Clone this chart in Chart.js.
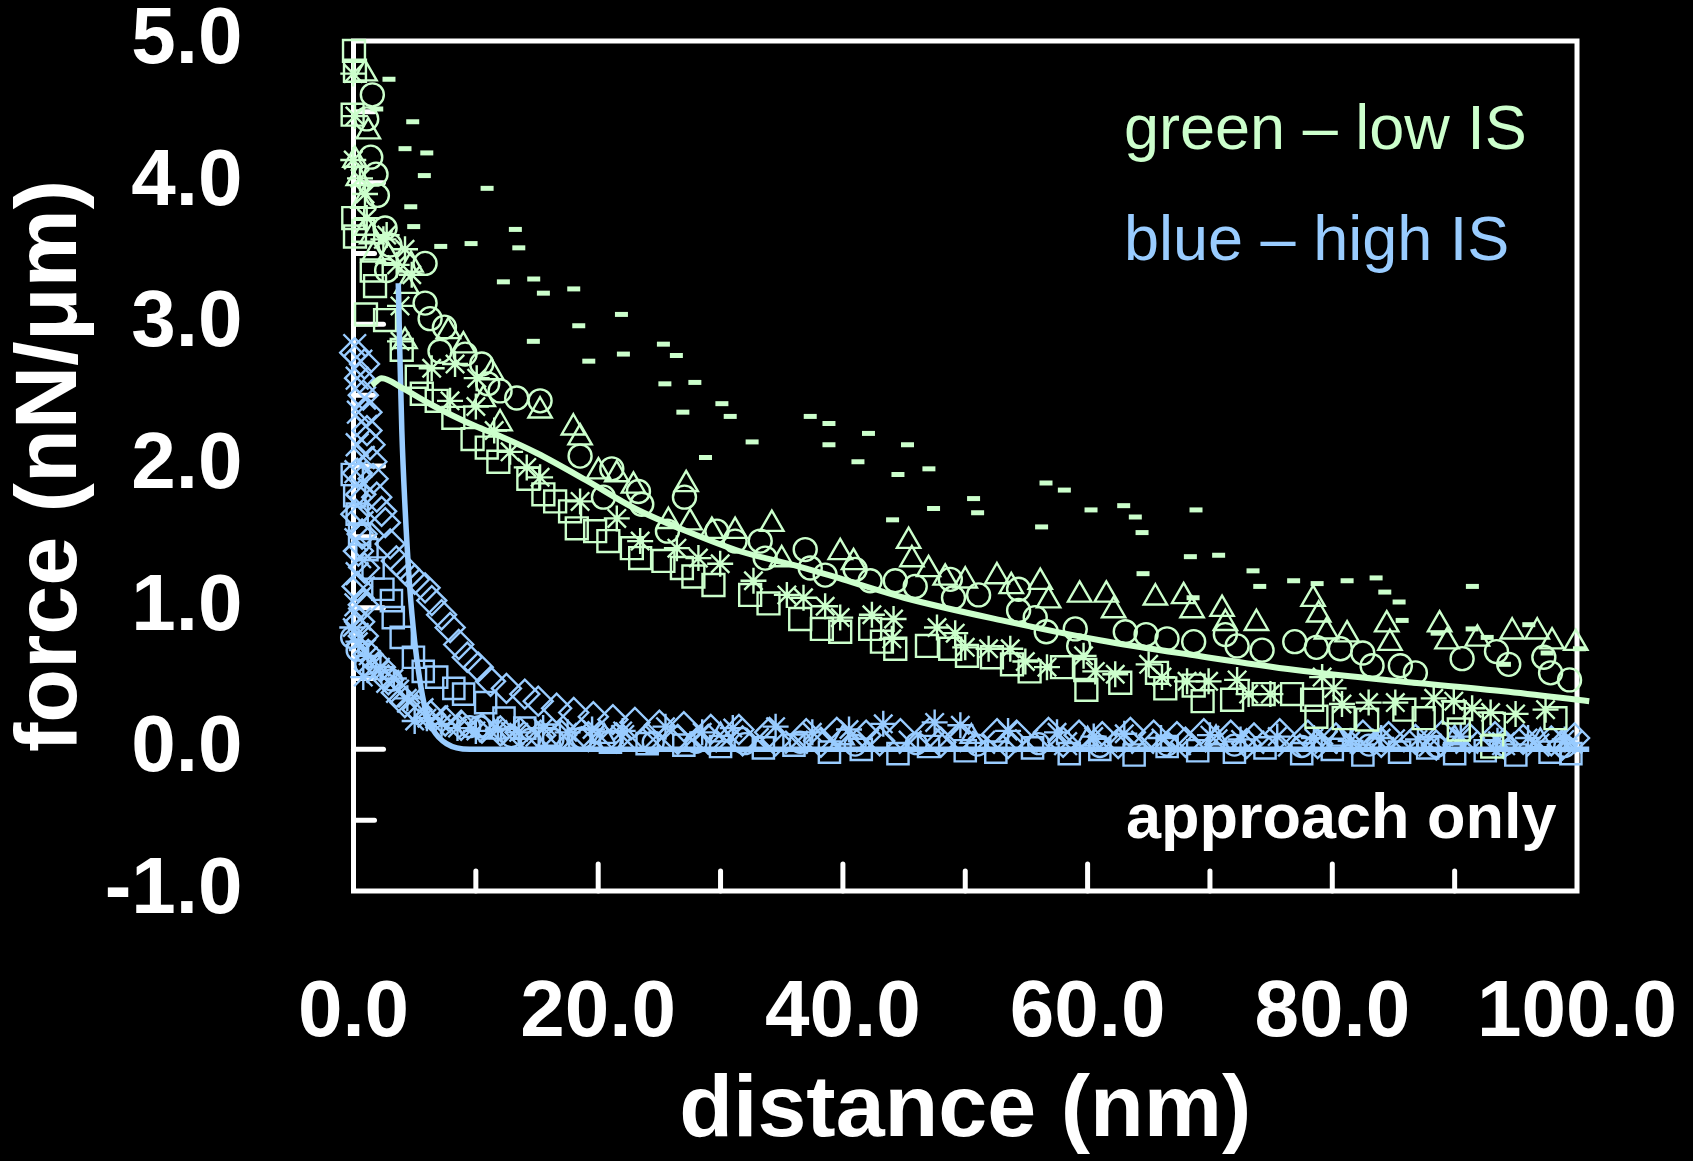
<!DOCTYPE html>
<html>
<head>
<meta charset="utf-8">
<script src="https://cdn.jsdelivr.net/npm/chart.js@4.4.0/dist/chart.umd.min.js"></script>
<style>
  html, body { margin: 0; padding: 0; background: #000; overflow: hidden; }
  #wrap { width: 1693px; height: 1161px; position: relative; }
</style>
</head>
<body>
<div id="wrap"><canvas id="forceChart"></canvas></div>
<script>
// axis ticks
var xTickStep = 20
var yTickStep = 1

// fitted curves [distance nm, force nN/um]
var greenFit = [[1.5,2.57],[2.3,2.62],[4,2.55],[6,2.45],[8,2.36],[10,2.28],[12,2.21],[15,2.09],[19,1.90],[23,1.70],[27.5,1.53],[31.5,1.40],[36,1.30],[40,1.20],[45,1.07],[53,0.91],[61,0.77],[69,0.66],[77,0.56],[85.5,0.48],[94,0.41],[101,0.34]]
var blueFit = [[3.66,3.29],[3.8,2.75],[3.95,2.25],[4.2,1.73],[4.6,1.14],[5.0,0.76],[5.4,0.50],[5.85,0.29],[6.5,0.14],[7.6,0.04],[9.5,0.0],[101,0.0]]

// low IS (green) measurements
var greenDashes = [[2.90,4.73],[1.90,4.52],[4.84,4.43],[4.21,4.24],[5.99,4.21],[5.79,4.05],[10.92,3.96],[4.68,3.83],[4.92,3.69],[13.23,3.67],[7.13,3.55],[9.61,3.57],[13.51,3.54],[12.25,3.30],[14.73,3.32],[15.52,3.22],[18.00,3.25],[18.41,2.99],[14.70,2.88],[19.23,2.74],[21.90,3.07],[22.06,2.79],[25.33,2.86],[26.39,2.78],[25.45,2.58],[27.90,2.59],[26.92,2.38],[30.11,2.44],[30.79,2.35],[32.58,2.17],[28.77,2.06],[37.33,2.35],[38.86,2.30],[38.86,2.15],[42.09,2.23],[41.23,2.03],[45.28,2.15],[44.50,1.94],[47.03,1.98],[47.41,1.70],[44.06,1.62],[50.68,1.77],[51.01,1.67],[56.60,1.88],[58.10,1.83],[56.24,1.57],[60.28,1.69],[62.95,1.72],[63.90,1.64],[64.45,1.53],[64.53,1.24],[68.86,1.69],[68.40,1.36],[70.71,1.37],[73.52,1.26],[74.07,1.15],[68.62,1.07],[76.84,1.19],[78.76,1.17],[81.21,1.19],[83.58,1.21],[84.29,1.11],[85.46,1.04],[85.71,0.91],[91.45,1.15],[88.57,0.82],[91.43,0.85],[92.66,0.79],[94.07,0.60],[96.06,0.88],[97.56,0.68],[100.2,0.71]]
var greenCircles = [[1.54,4.62],[1.08,4.45],[1.41,4.18],[1.84,4.06],[1.95,3.91],[2.58,3.68],[2.98,3.56],[5.85,3.43],[2.71,3.38],[5.85,3.15],[6.26,3.04],[7.43,2.98],[7.07,2.81],[9.12,2.79],[10.48,2.72],[10.97,2.58],[11.98,2.53],[13.34,2.48],[15.25,2.46],[18.52,2.07],[21.11,1.98],[20.43,1.78],[23.29,1.82],[23.56,1.73],[27.05,1.78],[25.66,1.54],[29.70,1.54],[31.19,1.47],[33.24,1.47],[33.65,1.35],[36.92,1.41],[37.33,1.28],[38.55,1.23],[41.0,1.27],[42.23,1.19],[44.28,1.19],[45.91,1.15],[48.78,1.20],[49.04,1.07],[51.09,1.09],[54.36,1.13],[54.36,0.98],[55.72,0.93],[56.62,0.83],[58.99,0.85],[59.27,0.73],[63.08,0.83],[64.78,0.81],[66.49,0.78],[68.67,0.76],[71.26,0.81],[72.22,0.73],[74.26,0.70],[76.93,0.76],[78.70,0.72],[80.66,0.71],[82.49,0.68],[83.25,0.59],[85.56,0.59],[86.79,0.54],[90.61,0.64],[93.42,0.69],[94.42,0.60],[97.29,0.65],[97.84,0.54],[99.39,0.49]]
var greenTriangles = [[0.94,4.77],[1.21,4.36],[0.12,4.16],[0.39,4.03],[0.80,3.87],[1.08,3.68],[1.49,3.62],[1.62,3.49],[2.85,3.48],[4.70,3.42],[4.35,3.27],[4.21,2.88],[7.75,2.95],[8.98,2.85],[11.30,2.66],[10.61,2.47],[15.25,2.39],[17.97,2.27],[11.98,2.30],[18.52,2.20],[20.02,1.96],[21.52,1.94],[22.88,1.86],[27.19,1.87],[25.74,1.61],[27.51,1.60],[29.29,1.54],[31.19,1.54],[34.19,1.59],[35.0,1.34],[39.78,1.39],[40.87,1.32],[45.37,1.47],[45.64,1.34],[47.0,1.27],[48.36,1.21],[50.0,1.19],[52.59,1.22],[53.76,1.15],[56.13,1.18],[56.81,1.05],[59.35,1.09],[61.53,1.09],[62.13,0.98],[65.54,1.07],[67.85,1.08],[68.54,0.98],[70.99,0.99],[71.26,0.89],[73.80,0.89],[78.43,1.06],[78.89,0.95],[79.52,0.83],[81.21,0.81],[84.45,0.88],[84.71,0.75],[88.77,0.88],[89.38,0.76],[91.86,0.78],[94.70,0.83],[96.75,0.83],[97.96,0.76],[99.90,0.75]]
var greenSquares = [[0.04,4.93],[0.12,4.79],[-0.07,4.48],[-0.02,3.75],[0.80,3.66],[0.12,3.62],[1.49,3.38],[1.76,3.27],[1.02,3.07],[2.58,3.03],[3.94,2.82],[5.17,2.63],[5.58,2.51],[6.80,2.46],[8.16,2.34],[9.73,2.19],[10.89,2.13],[11.84,2.03],[14.29,1.91],[15.52,1.80],[16.48,1.75],[17.70,1.68],[18.25,1.56],[19.75,1.54],[20.83,1.47],[22.75,1.42],[23.43,1.35],[25.33,1.33],[26.84,1.28],[27.78,1.22],[29.42,1.16],[32.42,1.09],[33.92,1.03],[36.51,0.92],[38.28,0.85],[39.78,0.83],[42.23,0.85],[43.19,0.76],[44.28,0.71],[46.87,0.73],[48.77,0.71],[50.14,0.66],[52.18,0.65],[53.82,0.60],[55.26,0.55],[57.91,0.58],[59.81,0.56],[59.90,0.42],[62.67,0.47],[65.67,0.54],[66.35,0.43],[68.67,0.45],[69.40,0.34],[71.81,0.35],[74.39,0.39],[76.71,0.39],[78.35,0.35],[78.70,0.23],[80.93,0.22],[82.85,0.21],[85.89,0.28],[87.47,0.22],[89.93,0.26],[90.34,0.14],[93.20,0.18],[93.07,0.02],[98.24,0.22]]
var greenStars = [[-0.02,4.77],[0.12,4.47],[-0.02,4.16],[0.53,4.03],[0.94,3.92],[1.08,3.75],[2.71,3.63],[2.44,3.60],[4.21,3.53],[3.53,3.42],[4.76,3.35],[3.80,3.13],[3.80,2.88],[6.39,2.69],[8.30,2.72],[10.07,2.62],[7.89,2.46],[10.0,2.42],[11.5,2.25],[12.8,2.10],[14.16,1.99],[15.25,1.92],[18.52,1.75],[21.52,1.63],[23.43,1.47],[26.43,1.42],[28.19,1.35],[29.97,1.31],[32.69,1.19],[35.42,1.09],[36.78,1.07],[38.55,1.01],[39.78,0.93],[42.37,0.95],[44.14,0.92],[44.0,0.78],[47.69,0.86],[49.18,0.82],[50.0,0.72],[51.91,0.71],[53.68,0.71],[54.91,0.62],[56.68,0.58],[59.67,0.66],[60.63,0.55],[62.26,0.53],[64.99,0.60],[66.08,0.51],[68.13,0.48],[69.89,0.48],[72.22,0.49],[73.16,0.39],[74.94,0.39],[79.17,0.51],[80.11,0.43],[80.79,0.32],[82.97,0.33],[85.15,0.33],[88.29,0.36],[89.93,0.34],[91.43,0.29],[92.94,0.26],[94.98,0.25],[97.43,0.28]]

// high IS (blue) measurements
var blueDiamonds = [[0.1,2.80],[0.9,2.72],[0.5,2.62],[0.8,2.50],[1.1,2.38],[1.1,2.25],[1.35,2.15],[1.5,2.03],[1.6,1.91],[1.9,1.78],[2.3,1.68],[2.6,1.60],[3.0,1.45],[3.5,1.33],[4.2,1.27],[5.0,1.20],[5.85,1.14],[6.4,1.05],[7.2,0.95],[7.9,0.86],[8.6,0.74],[9.3,0.65],[10.2,0.58],[11.2,0.48],[12.5,0.43],[14.0,0.39],[15.1,0.34],[16.6,0.29],[18.0,0.26],[19.6,0.23],[21.2,0.21],[23.0,0.19],[25.0,0.17],[27.0,0.16],[29.2,0.14],[31.5,0.14],[34.0,0.12],[37.0,0.11],[39.5,0.12],[41.9,0.10],[44.7,0.11],[47.1,0.12],[49.6,0.09],[52.6,0.11],[54.2,0.10],[56.8,0.12],[59.3,0.10],[61.2,0.09],[63.5,0.12],[65.4,0.10],[67.3,0.09],[69.5,0.11],[71.7,0.10],[73.6,0.08],[75.7,0.11],[78.0,0.10],[80.3,0.08],[82.5,0.10],[84.6,0.09],[86.8,0.07],[89.0,0.10],[91.2,0.08],[93.3,0.09],[95.6,0.07],[97.9,0.06],[99.8,0.08],
  [0.3,1.95],[0.6,1.80],[0.2,1.66],[0.7,1.52],[0.4,1.40],[0.9,1.28],[0.3,1.15],[0.8,1.02],[0.5,0.90],
  [0.8,0.80],[1.2,0.67],[2.2,0.58],[2.85,0.49],[3.5,0.40],[4.2,0.33],[5.2,0.28],[6.3,0.24],[7.5,0.20],[8.8,0.17],[10.5,0.15],[12.0,0.13],[13.6,0.12],[15.3,0.10],[17.0,0.10],[19.2,0.09],[21.5,0.08],[24.0,0.08],[26.5,0.07],[29.0,0.07],[31.8,0.06],[34.5,0.06],[38.2,0.05],[43.0,0.06],[48.0,0.05],[53.5,0.04],[58.0,0.05],[62.5,0.04],[68.0,0.05],[73.0,0.04],[78.8,0.04],[84.0,0.05],[88.5,0.03],[94.0,0.04],[98.8,0.03]]
var blueSquares = [[-0.1,1.94],[0.1,1.79],[0.3,1.66],[0.5,1.52],[1.1,1.41],[1.6,1.28],[2.4,1.13],[3.1,1.05],[3.25,0.93],[3.9,0.79],[4.9,0.65],[5.7,0.55],[6.8,0.51],[8.2,0.43],[9.0,0.39],[10.8,0.33],[12.3,0.22],[14.0,0.15],[16.0,0.10],[18.5,0.07],[21.0,0.05],[24.0,0.04],[27.0,0.03],[30.0,0.02],[33.5,0.01],[36.0,0.03],[38.9,-0.02],[41.5,0.00],[44.5,-0.03],[47.0,0.02],[50.0,-0.01],[52.5,-0.02],[55.5,0.01],[58.5,-0.03],[61.0,0.00],[63.8,-0.04],[66.5,0.02],[69.0,-0.01],[72.0,-0.02],[74.5,0.01],[77.5,-0.03],[80.0,0.00],[82.5,-0.04],[85.5,-0.02],[87.8,0.01],[90.0,-0.03],[92.5,-0.01],[95.0,-0.04],[97.8,-0.02],[99.5,-0.03]]
var blueCrosses = [[0.1,2.85],[0.6,2.74],[0.3,2.62],[0.9,2.48],[0.4,2.38],[1.0,2.28],[0.3,2.15],[0.8,2.06],[0.2,1.96],[0.6,1.85],[0.3,1.72],[0.7,1.60],[0.2,1.48],[0.5,1.36],[0.3,1.24],[0.8,1.14],[0.2,1.02],[0.5,0.92],[0.3,0.81],[0.9,0.70],[1.3,0.62],[2.0,0.55],[2.8,0.48],[3.6,0.41],[4.5,0.34],[5.6,0.28],[6.8,0.23],[8.0,0.19],[9.5,0.16],[11.2,0.13],[13.0,0.11],[15.0,0.10],[17.2,0.09],[19.5,0.08],[22.0,0.09],[24.5,0.07],[27.5,0.08],[30.5,0.06],[33.0,0.07],[36.2,0.05],[39.0,0.07],[42.0,0.06],[45.5,0.05],[48.5,0.07],[51.5,0.05],[55.0,0.06],[58.2,0.04],[61.5,0.06],[64.5,0.05],[67.5,0.04],[70.5,0.06],[73.5,0.05],[76.5,0.03],[79.5,0.05],[82.5,0.04],[85.0,0.06],[88.0,0.03],[91.0,0.05],[94.0,0.04],[96.8,0.03],[99.5,0.05]]
var blueStars = [[-0.1,0.86],[0.4,0.76],[0.8,0.51],[1.2,0.66],[2.2,0.58],[3.3,0.50],[4.4,0.36],[5.0,0.20],[6.0,0.22],[7.2,0.18],[8.5,0.15],[10.0,0.13],[11.8,0.14],[13.5,0.12],[15.5,0.15],[17.5,0.12],[19.5,0.14],[22.0,0.13],[25.5,0.16],[28.5,0.12],[31.0,0.15],[34.5,0.16],[37.5,0.12],[40.5,0.14],[43.3,0.18],[47.5,0.19],[49.6,0.17],[53.5,0.13],[57.5,0.12],[60.5,0.09],[63.0,0.11],[66.0,0.08],[70.0,0.10],[72.5,0.07],[75.5,0.09],[78.5,0.08],[81.5,0.06],[84.0,0.08],[87.0,0.07],[90.5,0.09],[93.5,0.06],[96.0,0.08],[99.0,0.07]]
var blueCircles = [[-0.15,0.79],[0.3,0.70],[1.0,0.60],[3.1,0.49],[9.5,0.16],[10.3,0.16],[12.9,0.09],[14.4,0.07],[16.3,0.07],[18.7,0.08],[21.0,0.06],[24.5,0.05],[28.0,0.05],[32.0,0.04],[36.5,0.05],[41.0,0.03],[46.0,0.04],[51.0,0.03],[56.0,0.04],[61.0,0.02],[66.5,0.03],[72.0,0.03],[77.5,0.02],[83.0,0.03],[88.5,0.02],[94.0,0.03],[99.0,0.02]]
var blueTriangles = [[11.5,0.12],[20.5,0.09],[30.0,0.10],[40.0,0.08],[50.5,0.09],[60.0,0.07],[70.5,0.08],[80.5,0.07],[90.0,0.08],[97.0,0.06]]

var green = '#ccffcc'
var blue = '#99ccff'
var fontFamily = '"Liberation Sans", Arial, sans-serif'

function toPoints(pairs) {
	return pairs.map(function(p) { return {x: p[0], y: p[1]} })
}

function markers(pairs, style, color, radius) {
	return {
		data: toPoints(pairs),
		pointStyle: style,
		pointRadius: radius,
		pointBorderColor: color,
		pointBackgroundColor: 'rgba(0,0,0,0)',
		pointBorderWidth: 2.4,
		showLine: false,
		clip: false
	}
}

function fitLine(pairs, color, width) {
	return {
		data: toPoints(pairs),
		showLine: true,
		borderColor: color,
		borderWidth: width,
		pointRadius: 0,
		cubicInterpolationMode: 'monotone',
		clip: false
	}
}

// black page, white frame with inward ticks
var frameTicks = {
	id: 'frameTicks',
	beforeDraw: function(chart) {
		var ctx = chart.ctx
		ctx.save()
		ctx.fillStyle = '#000'
		ctx.fillRect(0, 0, chart.width, chart.height)
		ctx.restore()
	},
	beforeDatasetsDraw: function(chart) {
		var ctx = chart.ctx
		var a = chart.chartArea
		var xs = chart.scales.x, ys = chart.scales.y
		ctx.save()
		ctx.strokeStyle = '#fff'
		ctx.lineWidth = 5
		ctx.strokeRect(a.left, a.top, a.right - a.left, a.bottom - a.top)
		ctx.lineCap = 'round'
		for (var v = ys.min + 0.5; v < ys.max; v += 0.5) {
			var py = ys.getPixelForValue(v)
			var len = Number.isInteger(v) ? 30 : 21
			ctx.beginPath()
			ctx.moveTo(a.left, py)
			ctx.lineTo(a.left + len, py)
			ctx.stroke()
		}
		for (var t = xs.min + 10; t < xs.max; t += 10) {
			var px = xs.getPixelForValue(t)
			var tl = t % 20 === 0 ? 27 : 20
			ctx.beginPath()
			ctx.moveTo(px, a.bottom)
			ctx.lineTo(px, a.bottom - tl)
			ctx.stroke()
		}
		ctx.restore()
	},
	afterDraw: function(chart) {
		var ctx = chart.ctx
		ctx.save()
		ctx.textAlign = 'left'
		ctx.textBaseline = 'alphabetic'
		ctx.font = '63px ' + fontFamily
		ctx.fillStyle = green
		ctx.fillText('green \u2013 low IS', 1124, 149)
		ctx.fillStyle = blue
		ctx.fillText('blue \u2013 high IS', 1124, 260)
		ctx.font = 'bold 63px ' + fontFamily
		ctx.fillStyle = '#fff'
		ctx.fillText('approach only', 1126, 838)
		ctx.restore()
	}
}

var datasets = [
	fitLine(greenFit, green, 6),
	fitLine(blueFit, blue, 5.5),
	markers(greenDashes, 'line', green, 6.5),
	markers(greenCircles, 'circle', green, 11.5),
	markers(greenTriangles, 'triangle', green, 13.5),
	markers(greenSquares, 'rect', green, 15.5),
	markers(greenStars, 'star', green, 13),
	markers(blueStars, 'star', blue, 13),
	markers(blueCrosses, 'crossRot', blue, 16),
	markers(blueCircles, 'circle', blue, 10.5),
	markers(blueTriangles, 'triangle', blue, 12.5),
	markers(blueSquares, 'rect', blue, 15),
	markers(blueDiamonds, 'rectRot', blue, 14.5)
]
datasets[2].pointBorderWidth = 5

var tickFont = {family: fontFamily, size: 80, weight: 'bold', lineHeight: 1}
var titleFont = {family: fontFamily, size: 88, weight: 'bold', lineHeight: 1}

new Chart(document.getElementById('forceChart'), {
	type: 'scatter',
	data: {datasets: datasets},
	plugins: [frameTicks],
	options: {
		responsive: true,
		maintainAspectRatio: false,
		animation: false,
		layout: {padding: {left: 0, top: 41, right: 116, bottom: 0}},
		plugins: {legend: {display: false}, tooltip: {enabled: false}},
		scales: {
			x: {
				type: 'linear',
				min: 0, max: 100,
				// tick marks are drawn by the plugin, tickLength only spaces the labels
				grid: {display: false, drawTicks: true, tickLength: 83},
				border: {display: false},
				ticks: {
					stepSize: xTickStep, autoSkip: false, maxRotation: 0,
					padding: 0, color: '#fff', font: tickFont,
					callback: function(v) { return v.toFixed(1) }
				},
				title: {display: true, text: 'distance (nm)', color: '#fff', font: titleFont, padding: {top: 0, bottom: 5}},
				afterFit: function(scale) { scale.height = 270 }
			},
			y: {
				type: 'linear',
				min: -1, max: 5,
				grid: {display: false, drawTicks: true, tickLength: 111},
				border: {display: false},
				ticks: {
					stepSize: yTickStep, padding: 0, color: '#fff', font: tickFont,
					callback: function(v) { return v.toFixed(1) }
				},
				title: {display: true, text: 'force (nN/\u03bcm)', color: '#fff', font: titleFont, padding: {top: 8, bottom: 0}},
				afterFit: function(scale) { scale.width = 353.5 }
			}
		}
	}
})
</script>
</body>
</html>
